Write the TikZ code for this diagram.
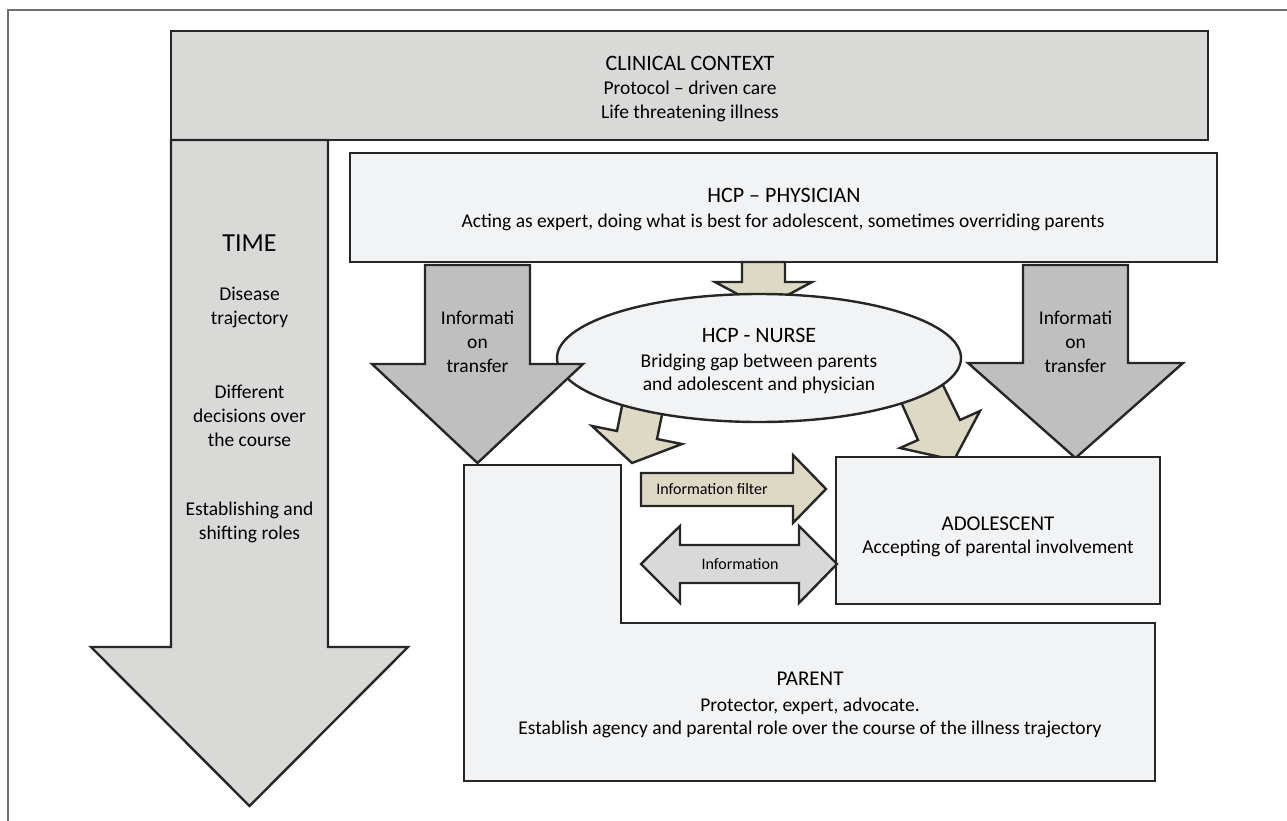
\documentclass[tikz,border=0pt]{standalone}
\usepackage{fontspec}
\setmainfont{Carlito}
\usetikzlibrary{shapes}

\definecolor{edgec}{HTML}{262626}
\definecolor{ctxfill}{HTML}{D9D9D8}
\definecolor{boxfill}{HTML}{F2F3F5}
\definecolor{xferfill}{HTML}{BFBFBF}
\definecolor{tanfill}{HTML}{DDD9C4}
\definecolor{infofill}{HTML}{D9D9D9}
\definecolor{framec}{HTML}{707070}

\tikzset{
  shapeline/.style={draw=edgec, line width=2.4pt, line join=miter},
  ctxshape/.style={shapeline, fill=ctxfill},
  boxshape/.style={shapeline, fill=boxfill},
  xfershape/.style={shapeline, fill=xferfill},
  tanshape/.style={shapeline, fill=tanfill},
  infoshape/.style={shapeline, fill=infofill},
  titletext/.style={inner sep=0, font=\fontsize{22}{26}\selectfont},
  bodytext/.style={inner sep=0, align=center, font=\fontsize{19.5}{24}\selectfont},
  smalltext/.style={inner sep=0, font=\fontsize{16}{19}\selectfont},
}

\begin{document}
\begin{tikzpicture}[x=1pt, y=-1pt]
      \useasboundingbox (0,0) rectangle (1287,821);
      \draw[framec, line width=1.3pt] (8,821) -- (8,10) -- (1287,10);

      % clinical context and time
      \draw[ctxshape] (171,31) rectangle (1208,140);
      \draw[ctxshape] (171,140) -- (328,140) -- (328,647) -- (408,647) -- (249.5,806) -- (91,647) -- (171,647) -- cycle;

      % physician and the arrow down to the nurse
      \draw[boxshape] (350,153) rectangle (1217,262);
      \draw[tanshape] (742,262) -- (785,262) -- (785,282) -- (812,282) -- (763.5,308) -- (715,282) -- (742,282) -- cycle;

      % nurse, with its two arrows behind it
      \draw[tanshape] (624,396) -- (617,431) -- (592,426) -- (632,463) -- (682,444) -- (657,439) -- (664,405) -- cycle;
      \draw[tanshape] (897,393) -- (918,440) -- (900,448) -- (954,460) -- (980,411) -- (960,420) -- (939,377) -- cycle;
      \draw[boxshape] (759,358) ellipse [x radius=202, y radius=64];

      % information transfer
      \draw[xfershape] (425,265) -- (530,265) -- (530,364) -- (583,364) -- (477.5,463) -- (372,364) -- (425,364) -- cycle;
      \draw[xfershape] (1023,265) -- (1128,265) -- (1128,363) -- (1183,363) -- (1075.5,458) -- (968,363) -- (1023,363) -- cycle;

      % parent and adolescent
      \draw[boxshape] (464,465) -- (621,465) -- (621,623) -- (1155,623) -- (1155,781) -- (464,781) -- cycle;
      \draw[boxshape] (836,457) rectangle (1160,604);
      \draw[tanshape] (641,473) -- (793,473) -- (793,455) -- (826,489) -- (793,523) -- (793,506) -- (641,506) -- cycle;
      \draw[infoshape] (641,564) -- (680,526) -- (680,545) -- (799,545) -- (799,526) -- (837,564) -- (799,603) -- (799,583) -- (680,583) -- (680,603) -- cycle;

      % texts
      \node [bodytext] (ctx) at (690,89) {{\fontsize{22}{24}\selectfont CLINICAL CONTEXT}\\Protocol -- driven care\\Life threatening illness};

      \node [titletext, font=\fontsize{26}{30}\selectfont] (time) at (249.5,243) {TIME};
      \node [bodytext] (timeA) at (249.5,307) {Disease\\trajectory};
      \node [bodytext] (timeB) at (249.5,416) {Different\\decisions over\\the course};
      \node [bodytext] (timeC) at (249.5,522) {Establishing and\\shifting roles};

      \node [titletext] (phytitle) at (784,195) {HCP -- PHYSICIAN};
      \node [bodytext] (phytext) at (783,222) {Acting as expert, doing what is best for adolescent, sometimes overriding parents};

      \node [titletext] (nursetitle) at (759,335) {HCP - NURSE};
      \node [bodytext, font=\fontsize{19.5}{23}\selectfont] (nursetext) at (759,374) {Bridging gap between parents\\and adolescent and physician};

      \node [bodytext] (xferL) at (477.5,342) {Informati\\on\\transfer};
      \node [bodytext] (xferR) at (1075.5,342) {Informati\\on\\transfer};

      \node [smalltext] (filter) at (712,489) {Information filter};
      \node [smalltext] (info) at (740,564) {Information};

      \node [titletext, font=\fontsize{21}{25}\selectfont] (adoltitle) at (998,524) {ADOLESCENT};
      \node [bodytext] (adoltext) at (998,548) {Accepting of parental involvement};

      \node [titletext, font=\fontsize{21}{25}\selectfont] (partitle) at (810,679) {PARENT};
      \node [bodytext, font=\fontsize{19.5}{23}\selectfont] (partext) at (810,718) {Protector, expert, advocate.\\Establish agency and parental role over the course of the illness trajectory};
\end{tikzpicture}
\end{document}
